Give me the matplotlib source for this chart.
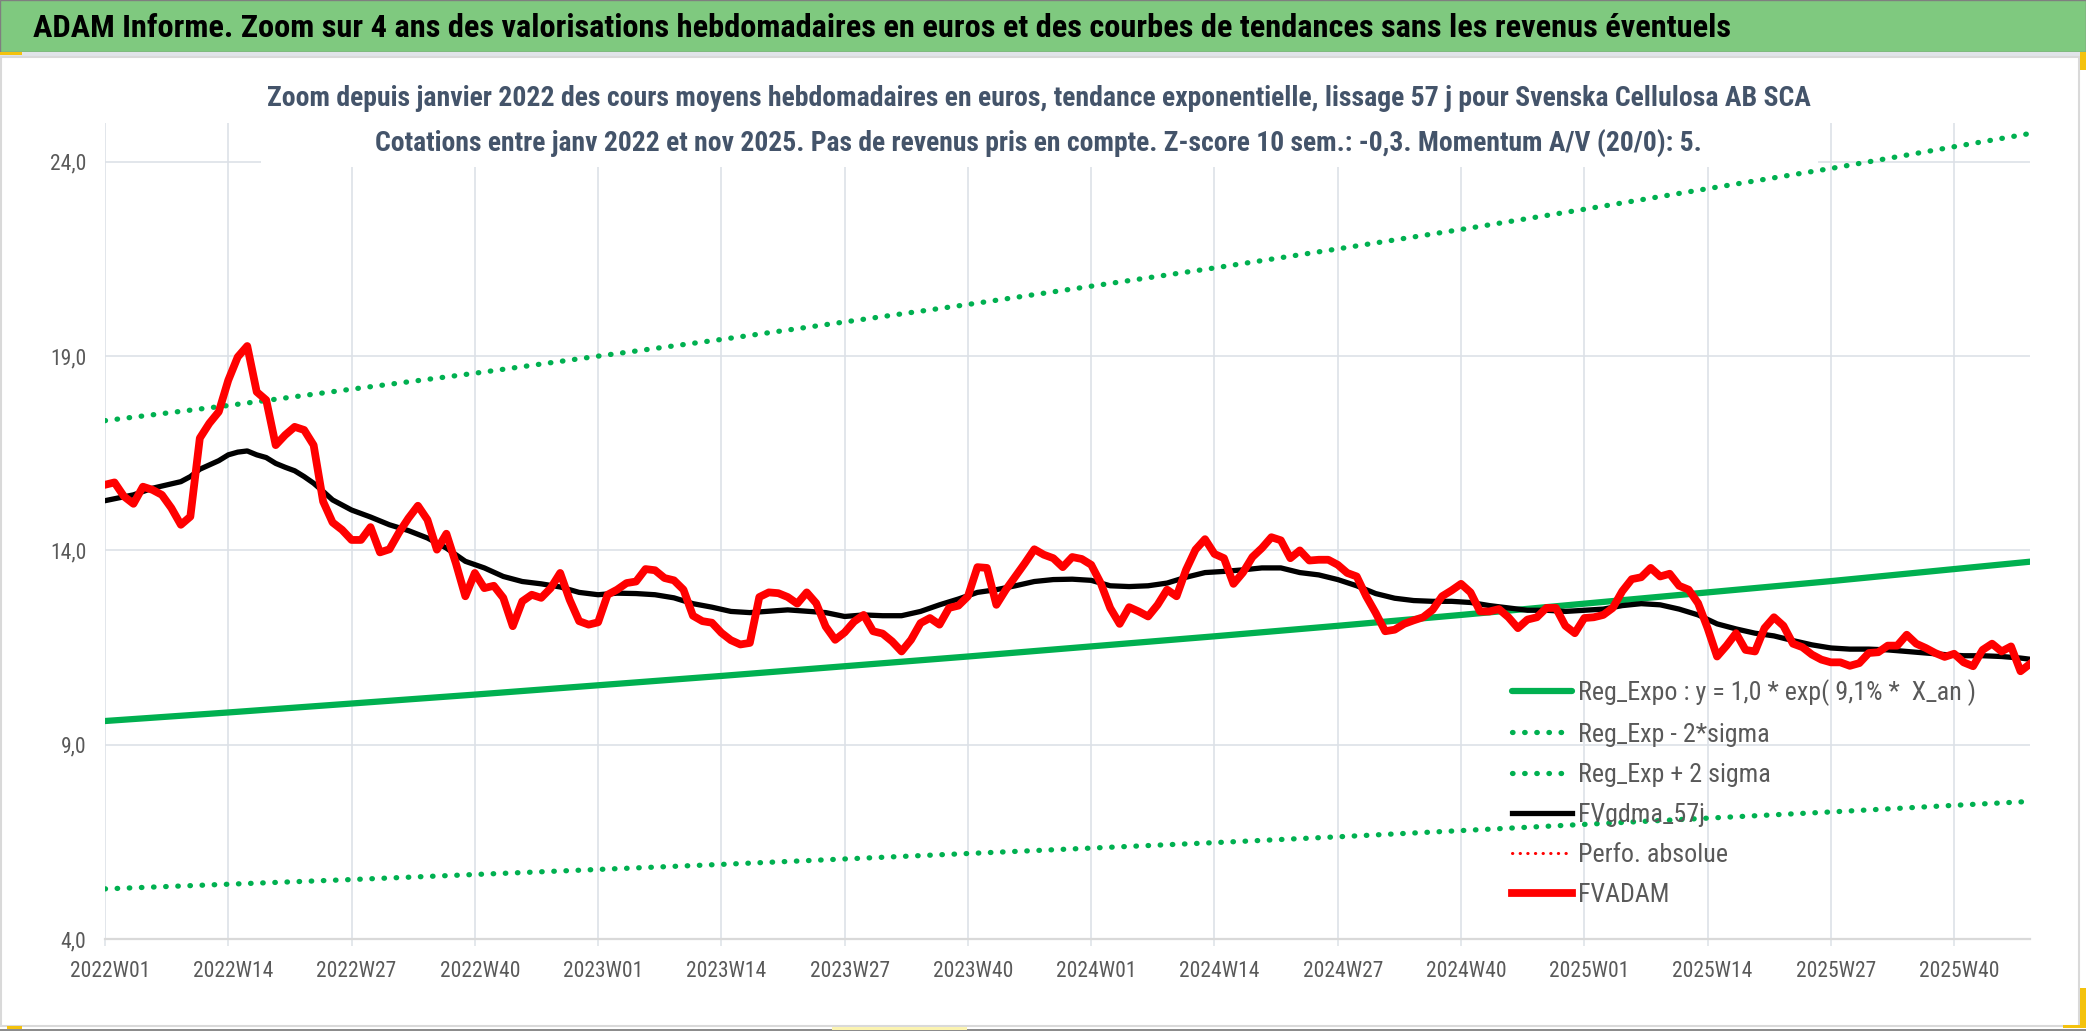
import numpy as np
import matplotlib
matplotlib.use("Agg")
import matplotlib.pyplot as plt
from matplotlib import font_manager as fm
from matplotlib.patches import Rectangle
import matplotlib.transforms as mtransforms

# pick a narrow sans font if one is installed (the original uses a condensed face)
avail = {f.name for f in fm.fontManager.ttflist}
narrow = next((c for c in ['Liberation Sans Narrow', 'Roboto Condensed', 'Open Sans Condensed',
                           'Noto Sans Condensed', 'DejaVu Sans Condensed', 'Arial Narrow'] if c in avail), None)
stretch = 'normal'
if narrow is None:
    cond = [f.name for f in fm.fontManager.ttflist
            if str(f.stretch) in ('condensed', 'semi-condensed', 'extra-condensed')
            and f.name in ('Noto Sans', 'Open Sans', 'Roboto', 'DejaVu Sans', 'Liberation Sans')]
    if cond:
        narrow, stretch = cond[0], 'condensed'
    else:
        narrow = 'Liberation Sans'
plt.rcParams['font.family'] = [narrow, 'DejaVu Sans']
plt.rcParams['font.stretch'] = stretch

# weekly categories 2022W01 .. 2025W48
tick_labels = ['2022W01', '2022W14', '2022W27', '2022W40',
               '2023W01', '2023W14', '2023W27', '2023W40',
               '2024W01', '2024W14', '2024W27', '2024W40',
               '2025W01', '2025W14', '2025W27', '2025W40']
tick_pos = [0, 13, 26, 39, 52, 65, 78, 91, 104, 117, 130, 143, 156, 169, 182, 195]

# FVADAM weekly values (euros)
fvadam = [15.69, 15.75, 15.39, 15.20, 15.64, 15.56, 15.43, 15.09, 14.66, 14.87,
          16.89, 17.27, 17.57, 18.38, 18.98, 19.26, 18.08, 17.87, 16.71, 16.97,
          17.18, 17.10, 16.71, 15.26, 14.72, 14.53, 14.27, 14.27, 14.60, 13.95,
          14.03, 14.46, 14.83, 15.15, 14.79, 14.02, 14.43, 13.67, 12.82, 13.42,
          13.03, 13.09, 12.78, 12.05, 12.69, 12.86, 12.78, 13.03, 13.42, 12.73,
          12.18, 12.09, 12.15, 12.86, 12.99, 13.16, 13.20, 13.52, 13.49, 13.29,
          13.23, 12.99, 12.32, 12.18, 12.14, 11.88, 11.69, 11.58, 11.62, 12.80,
          12.92, 12.90, 12.80, 12.63, 12.92, 12.64, 12.04, 11.70, 11.89, 12.17,
          12.34, 11.92, 11.86, 11.66, 11.40, 11.70, 12.13, 12.26, 12.09, 12.52,
          12.58, 12.82, 13.57, 13.55, 12.60, 12.99, 13.33, 13.67, 14.03, 13.89,
          13.80, 13.57, 13.83, 13.78, 13.63, 13.16, 12.52, 12.11, 12.54, 12.43,
          12.30, 12.60, 12.99, 12.82, 13.50, 14.02, 14.29, 13.91, 13.80, 13.14,
          13.43, 13.83, 14.06, 14.34, 14.26, 13.80, 14.00, 13.74, 13.76, 13.76,
          13.63, 13.42, 13.33, 12.82, 12.39, 11.92, 11.96, 12.11, 12.20, 12.28,
          12.47, 12.82, 12.97, 13.14, 12.92, 12.43, 12.43, 12.49, 12.28, 12.00,
          12.22, 12.28, 12.52, 12.52, 12.06, 11.87, 12.26, 12.28, 12.34, 12.52,
          12.95, 13.26, 13.31, 13.55, 13.33, 13.40, 13.09, 12.99, 12.64, 12.00,
          11.27, 11.55, 11.87, 11.44, 11.40, 12.00, 12.28, 12.06, 11.60, 11.51,
          11.32, 11.19, 11.12, 11.12, 11.03, 11.10, 11.36, 11.38, 11.55, 11.55,
          11.83, 11.60, 11.49, 11.36, 11.26, 11.34, 11.12, 11.02, 11.44, 11.60,
          11.40, 11.53, 10.89, 11.08]

# FVgdma_57j (smoothed), read at these week indices
gdma_idx = [0, 3, 5, 8, 9, 10, 12, 13, 14, 15, 16, 17, 18, 19, 20, 21, 22, 23, 24, 26,
            28, 30, 32, 34, 36, 38, 40, 42, 44, 46, 48, 50, 52, 54, 56, 58, 60, 62, 64, 66,
            68, 72, 76, 78, 80, 82, 84, 86, 88, 90, 92, 94, 96, 98, 100, 102, 104, 106, 108, 110,
            112, 114, 116, 118, 120, 122, 124, 126, 128, 130, 132, 134, 136, 138, 140, 142, 144, 146, 148, 150,
            152, 154, 156, 158, 160, 162, 164, 166, 168, 170, 172, 174, 176, 178, 180, 182, 184, 186, 188, 190,
            192, 194, 196, 198, 200, 202, 203]
gdma_val = [15.28, 15.43, 15.60, 15.77, 15.90, 16.09, 16.31, 16.46, 16.53, 16.56, 16.46, 16.39, 16.24, 16.14, 16.05, 15.90, 15.73, 15.52, 15.30, 15.04,
            14.86, 14.66, 14.51, 14.32, 14.06, 13.72, 13.55, 13.33, 13.20, 13.14, 13.06, 12.92, 12.86, 12.90, 12.89, 12.86, 12.78, 12.63, 12.54, 12.43,
            12.40, 12.47, 12.40, 12.30, 12.34, 12.32, 12.32, 12.43, 12.60, 12.75, 12.92, 12.99, 13.09, 13.20, 13.25, 13.26, 13.23, 13.09, 13.07, 13.09,
            13.16, 13.31, 13.43, 13.46, 13.50, 13.55, 13.55, 13.43, 13.37, 13.25, 13.09, 12.89, 12.77, 12.71, 12.69, 12.69, 12.66, 12.58, 12.52, 12.46,
            12.46, 12.43, 12.46, 12.49, 12.58, 12.63, 12.60, 12.49, 12.34, 12.11, 11.98, 11.87, 11.80, 11.68, 11.57, 11.49, 11.46, 11.46, 11.44, 11.40,
            11.36, 11.32, 11.29, 11.29, 11.27, 11.23, 11.20]

# exponential trend and +/- 2 sigma bands, read at each tick and at the last week
trend_idx = [0, 13, 26, 39, 52, 65, 78, 91, 104, 117, 130, 143, 156, 169, 182, 195, 203]
reg_expo = [9.61, 9.83, 10.06, 10.29, 10.53, 10.77, 11.02, 11.27, 11.53, 11.79, 12.06, 12.34, 12.63, 12.92, 13.21, 13.52, 13.71]
reg_minus = [5.29, 5.41, 5.53, 5.66, 5.79, 5.92, 6.06, 6.20, 6.34, 6.48, 6.63, 6.79, 6.95, 7.11, 7.27, 7.44, 7.54]
reg_plus = [17.34, 17.73, 18.15, 18.56, 19.00, 19.43, 19.88, 20.33, 20.80, 21.27, 21.76, 22.26, 22.78, 23.31, 23.83, 24.39, 24.73]

legend_labels = ['Reg_Expo : y = 1,0 * exp( 9,1% *  X_an )', 'Reg_Exp - 2*sigma', 'Reg_Exp + 2 sigma',
                 'FVgdma_57j', 'Perfo. absolue', 'FVADAM']

W, H = 2086, 1031
fig = plt.figure(figsize=(W / 100, H / 100), dpi=100)
fig.patch.set_facecolor('white')
renderer = fig.canvas.get_renderer()


def fx(px):
    return px / W


def fy(py):
    return 1 - py / H


ax = fig.add_axes([fx(105), fy(939), fx(2030) - fx(105), fy(123) - fy(939)])

GREEN = '#00B050'
GRID = '#DDE1E7'
dots = (0, (0.1, 2.2))

ax.plot(trend_idx, reg_expo, color=GREEN, lw=4.5, solid_capstyle='round', label=legend_labels[0])
ax.plot(trend_idx, reg_minus, color=GREEN, lw=3.8, ls=dots, dash_capstyle='round', label=legend_labels[1])
ax.plot(trend_idx, reg_plus, color=GREEN, lw=3.8, ls=dots, dash_capstyle='round', label=legend_labels[2])
ax.plot(gdma_idx, gdma_val, color='black', lw=3.8, solid_joinstyle='round', label=legend_labels[3])
ax.plot([], [], color='#FF0000', lw=2.2, ls=(0, (0.1, 2.4)), dash_capstyle='round', label=legend_labels[4])
ax.plot(np.arange(len(fvadam)), fvadam, color='#FF0000', lw=5.6, solid_joinstyle='round', label=legend_labels[5])

ax.set_xlim(0, len(fvadam) - 1)
ax.set_ylim(4, 25)
ax.set_yticks([4, 9, 14, 19, 24])
ax.set_yticklabels(['4,0', '9,0', '14,0', '19,0', '24,0'])
ax.set_xticks(tick_pos)
ax.set_xticklabels(tick_labels)
ax.grid(True, color=GRID, lw=1.2)
ax.set_axisbelow(True)
for s in ['left', 'right', 'top']:
    ax.spines[s].set_visible(False)
ax.spines['bottom'].set_color('#D9D9D9')
ax.spines['bottom'].set_linewidth(1.6)
ax.tick_params(axis='x', length=5, width=1.1, color=GRID, pad=11, labelsize=15.5, labelcolor='#595959')
ax.tick_params(axis='y', length=0, pad=13.5, labelsize=15.5, labelcolor='#595959')
shift = mtransforms.ScaledTranslation(5 / 100, 0, fig.dpi_scale_trans)
for lab in ax.get_xticklabels():
    lab.set_transform(lab.get_transform() + shift)

# legend: first entry about 397 px wide, rows 40 px apart in the original
probe = fig.text(0, 0, legend_labels[0], fontsize=17.5)
ext = probe.get_window_extent(renderer)
leg_fs = min(17.5 * 397 / ext.width, 20)
probe.set_fontsize(leg_fs)
row_h = probe.get_window_extent(renderer).height
probe.remove()
leg_fs_px = leg_fs * 100 / 72
leg = ax.legend(loc='upper left', bbox_to_anchor=(fx(1512), fy(693 - row_h / 2)), bbox_transform=fig.transFigure,
                frameon=False, fontsize=leg_fs, handlelength=60 / leg_fs_px, handletextpad=6 / leg_fs_px,
                labelspacing=max(43 - row_h, 0) / leg_fs_px, borderpad=0, borderaxespad=0,
                labelcolor='#595959')

# banner and frame
fig.add_artist(Rectangle((0, fy(52)), 1, 52 / H, transform=fig.transFigure,
                         facecolor='#7FC97F', edgecolor='#7F7F7F', lw=1, zorder=1))
fig.add_artist(Rectangle((0, fy(57)), 1, 5 / H, transform=fig.transFigure,
                         facecolor='#E1E4E9', edgecolor='none', zorder=1))
fig.add_artist(Rectangle((fx(1), fy(1026)), fx(2079) - fx(1), fy(57) - fy(1026), transform=fig.transFigure,
                         facecolor='none', edgecolor='#D9D9D9', lw=1.5, zorder=1))
fig.add_artist(Rectangle((0, 0), 1, 2 / H, transform=fig.transFigure,
                         facecolor='#8C8C8C', edgecolor='none', zorder=1))
# white box behind the chart title
fig.add_artist(Rectangle((fx(261), fy(167)), fx(1818) - fx(261), fy(123) - fy(167), transform=fig.transFigure,
                         facecolor='white', edgecolor='none', zorder=3))
# selection handles
YEL = '#F4C20D'
for (x0, y0, x1, y1) in [(0, 52, 22, 55), (2080, 52, 2086, 70), (2080, 988, 2086, 1028),
                         (2063, 1025, 2086, 1028), (7, 1026, 22, 1029)]:
    fig.add_artist(Rectangle((fx(x0), fy(y1)), fx(x1) - fx(x0), fy(y0) - fy(y1), transform=fig.transFigure,
                             facecolor=YEL, edgecolor='none', zorder=4))
fig.add_artist(Rectangle((fx(832), fy(1030)), fx(967) - fx(832), 3 / H, transform=fig.transFigure,
                         facecolor='#FBF3B0', edgecolor='none', zorder=4))

t0 = fig.text(fx(33), fy(28), 'ADAM Informe. Zoom sur 4 ans des valorisations hebdomadaires en euros et des courbes de tendances sans les revenus éventuels',
              ha='left', va='center', fontsize=22, fontweight='bold', color='black', zorder=5)
t1 = fig.text(fx(1039), fy(99), 'Zoom depuis janvier 2022 des cours moyens hebdomadaires en euros, tendance exponentielle, lissage 57 j pour Svenska Cellulosa AB SCA',
              ha='center', va='center', fontsize=18, fontweight='bold', color='#44546A', zorder=5)
t2 = fig.text(fx(1038), fy(143), 'Cotations entre janv 2022 et nov 2025. Pas de revenus pris en compte. Z-score 10 sem.: -0,3. Momentum A/V (20/0): 5.',
              ha='center', va='center', fontsize=18, fontweight='bold', color='#44546A', zorder=5)

for t, wpx, cap in [(t0, 1695, 26), (t1, 1543, 22), (t2, 1330, 22)]:
    w = t.get_window_extent(renderer).width
    t.set_fontsize(min(t.get_fontsize() * wpx / w, cap))

fig.savefig('out.png', dpi=100)
